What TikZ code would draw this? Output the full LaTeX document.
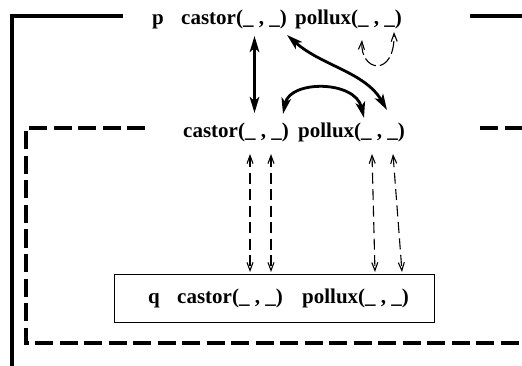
\documentclass[tikz,border=0pt]{standalone}
\usepackage{fontspec}
\setmainfont{Liberation Serif}
\usetikzlibrary{arrows.meta}
\begin{document}
\begin{tikzpicture}[x=1pt,y=-1pt,
  lbl/.style={font=\fontsize{21}{24}\selectfont\bfseries, inner sep=0pt, anchor=base west},
  frame/.style={line width=3.1pt},
  dframe/.style={line width=3.1pt, dash pattern=on 18pt off 6.5pt},
  bigarrow/.style={line width=2.8pt, {Stealth[length=16pt,width=9.5pt,inset=4pt]}-{Stealth[length=16pt,width=9.5pt,inset=4pt]}},
  link/.style={line width=1.1pt, dash pattern=on 11pt off 5.5pt, {Straight Barb[length=8pt,width=6pt]}-{Straight Barb[length=8pt,width=6pt]}}
]
\useasboundingbox (0,0) rectangle (522,366);
% outer solid frame
\coordinate (oc) at (12,16);
\coordinate (ol) at (12,370);
\coordinate (ot) at (123,16);
\coordinate (or1) at (470,16);
\coordinate (or2) at (526,16);
\draw[frame] (ol) -- (oc) -- (ot);
\draw[frame] (or1) -- (or2);
% inner dashed frame
\coordinate (ic) at (26,128);
\coordinate (it) at (145,128);
\coordinate (ib) at (26,343);
\coordinate (ibr) at (526,343);
\coordinate (ir1) at (480,128);
\coordinate (ir2) at (526,128);
\draw[dframe] (it) -- (ic) -- (ib) -- (ibr);
\draw[dframe] (ir1) -- (ir2);
% texts
\node[lbl] (p) at (152,25) {p};
\node[lbl] (topc) at (181,25) {castor(\_ , \_)};
\node[lbl] (topp) at (295,25) {pollux(\_ , \_)};
\node[lbl] (midc) at (183,138) {castor(\_ , \_)};
\node[lbl] (midp) at (298,138) {pollux(\_ , \_)};
\node[draw, line width=0.9pt, minimum width=320pt, minimum height=48pt, anchor=north west, inner sep=0pt] (box) at (114,274) {};
\node[lbl] (q) at (148,303) {q};
\node[lbl] (boxc) at (177,303) {castor(\_ , \_)};
\node[lbl] (boxp) at (302,303) {pollux(\_ , \_)};
% thick arrows
\coordinate (v1) at (254.5,36);
\coordinate (v2) at (254.5,113);
\draw[bigarrow] (v1) -- (v2);
\coordinate (s1) at (287,35);
\coordinate (s2) at (387,110);
\draw[bigarrow] (s1) .. controls (322,66) and (365,72) .. (s2);
\coordinate (a1) at (283,114);
\coordinate (a2) at (364,118);
\draw[bigarrow] (a1) .. controls (290,80) and (355,80) .. (a2);
% small dashed loop
\coordinate (l1) at (362,40);
\coordinate (l2) at (394,32);
\draw[link, dash pattern=on 13pt off 4pt] (l1) .. controls (360,72) and (395,78) .. (l2);
% dashed links
\coordinate (t1) at (250,154); \coordinate (b1) at (250,272);
\coordinate (t2) at (271,154); \coordinate (b2) at (271,272);
\coordinate (t3) at (372,154); \coordinate (b3) at (375,272);
\coordinate (t4) at (393,154); \coordinate (b4) at (402,272);
\draw[link] (t1) -- (b1);
\draw[link] (t2) -- (b2);
\draw[link] (t3) -- (b3);
\draw[link] (t4) -- (b4);
\end{tikzpicture}
\end{document}
